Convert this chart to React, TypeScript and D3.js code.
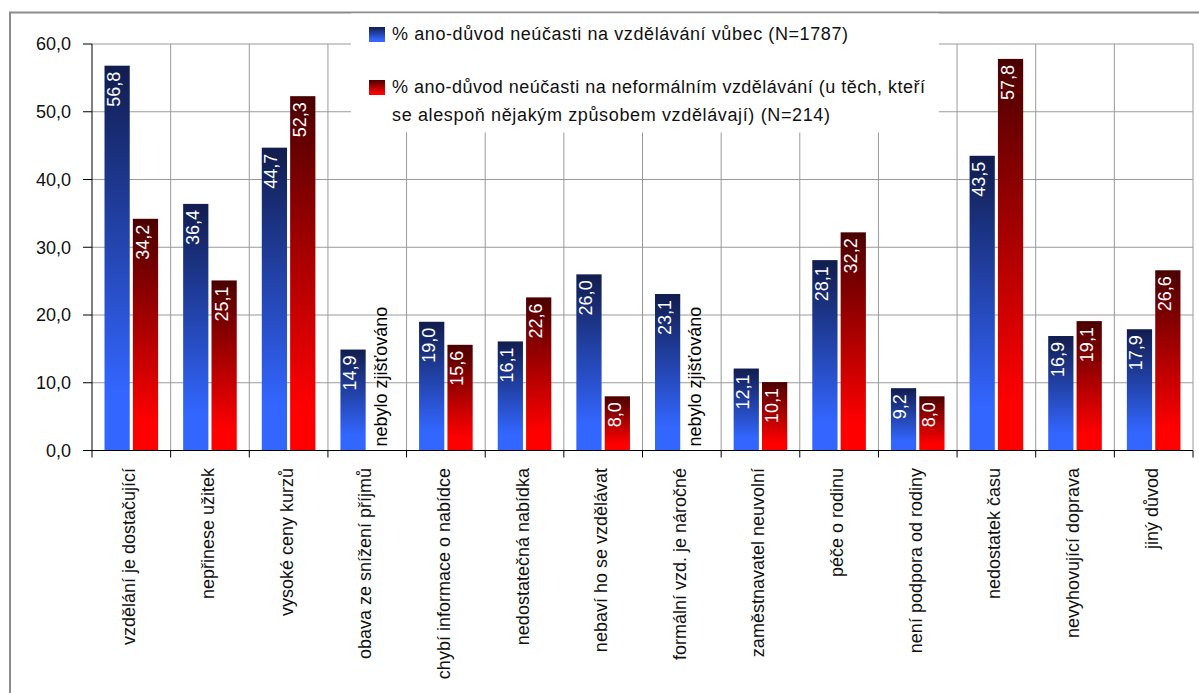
import React from "react";
import * as d3 from "d3";

const categories = [
  "vzdělání je dostačující",
  "nepřinese užitek",
  "vysoké ceny kurzů",
  "obava ze snížení příjmů",
  "chybí informace o nabídce",
  "nedostatečná nabídka",
  "nebaví ho se vzdělávat",
  "formální vzd. je náročné",
  "zaměstnavatel neuvolní",
  "péče o rodinu",
  "není podpora od rodiny",
  "nedostatek času",
  "nevyhovující doprava",
  "jiný důvod",
];

const blueValues: number[] = [56.8, 36.4, 44.7, 14.9, 19.0, 16.1, 26.0, 23.1, 12.1, 28.1, 9.2, 43.5, 16.9, 17.9];
const redValues: (number | null)[] = [34.2, 25.1, 52.3, null, 15.6, 22.6, 8.0, null, 10.1, 32.2, 8.0, 57.8, 19.1, 26.6];

const seriesNames = [
  ["% ano-důvod neúčasti na vzdělávání vůbec (N=1787)"],
  [
    "% ano-důvod neúčasti na neformálním vzdělávání (u těch, kteří",
    "se alespoň nějakým způsobem vzdělávají) (N=214)",
  ],
];
const notMeasuredLabel = "nebylo zjišťováno";
const yTicks = [0, 10, 20, 30, 40, 50, 60];

const W = 1199;
const H = 693;
const FONT = "'Liberation Sans', Arial, sans-serif";

export default function App() {
  const left = 92;
  const right = 1193;
  const top = 44;
  const bottom = 450.5;

  const x0 = d3.scaleBand<string>().domain(categories).range([left, right]).padding(0);
  const x1 = d3.scaleBand<string>().domain(["a", "b"]).range([12.5, 66.1]).paddingInner(0.11);
  const y = d3.scaleLinear().domain([0, 60]).range([bottom, top]);
  const fmt = (v: number) => d3.format(".1f")(v).replace(".", ",");
  const bw = x1.bandwidth();

  const boundaries = categories.map((c) => x0(c)!).concat([right]);

  return (
    <svg
      width={W}
      height={H}
      style={{ position: "absolute", left: 0, top: 0, background: "#fff" }}
      fontFamily={FONT}
    >
      <defs>
        <linearGradient id="gBlue" x1="0" y1="0" x2="0" y2="1">
          <stop offset="0" stopColor="#111d4e" />
          <stop offset="0.85" stopColor="#3366ff" />
          <stop offset="1" stopColor="#3366ff" />
        </linearGradient>
        <linearGradient id="gRed" x1="0" y1="0" x2="0" y2="1">
          <stop offset="0" stopColor="#4a0000" />
          <stop offset="0.88" stopColor="#ff0000" />
          <stop offset="1" stopColor="#ff0000" />
        </linearGradient>
      </defs>
      <rect x={0} y={0} width={W} height={H} fill="#fff" />
      {/* outer frame */}
      <rect x={10} y={12.5} width={1400} height={900} fill="none" stroke="#8c8c8c" strokeWidth={2} />

      {/* gridlines */}
      {yTicks.filter((t) => t > 0).map((t) => (
        <line key={"h" + t} x1={left} x2={right} y1={y(t)} y2={y(t)} stroke="#9a9a9a" strokeWidth={1} />
      ))}
      {boundaries.slice(1).map((bx, i) => (
        <line key={"v" + i} x1={bx} x2={bx} y1={top} y2={bottom} stroke="#9a9a9a" strokeWidth={1} />
      ))}

      {/* bars */}
      {categories.map((c, i) => {
        const bv = blueValues[i];
        const rv = redValues[i];
        const bx = x0(c)! + x1("a")!;
        const rx = x0(c)! + x1("b")!;
        return (
          <g key={"bar" + i}>
            <rect x={bx} y={y(bv)} width={bw} height={y(0) - y(bv)} fill="url(#gBlue)" />
            <text
              transform={`translate(${bx + 15.5},${y(bv) + 6}) rotate(-90)`}
              textAnchor="end"
              fontSize={18}
              fill="#fff"
            >
              {fmt(bv)}
            </text>
            {rv !== null ? (
              <>
                <rect x={rx} y={y(rv)} width={bw} height={y(0) - y(rv)} fill="url(#gRed)" />
                <text
                  transform={`translate(${rx + 16},${y(rv) + 6}) rotate(-90)`}
                  textAnchor="end"
                  fontSize={18}
                  fill="#fff"
                >
                  {fmt(rv)}
                </text>
              </>
            ) : (
              <text
                transform={`translate(${rx + 18},${y(0) - 4}) rotate(-90)`}
                textAnchor="start"
                fontSize={18}
                fill="#000"
              >
                {notMeasuredLabel}
              </text>
            )}
          </g>
        );
      })}

      {/* axes */}
      <line x1={left} x2={left} y1={top} y2={bottom} stroke="#000" strokeWidth={1} />
      <line x1={left} x2={right} y1={bottom} y2={bottom} stroke="#000" strokeWidth={1} />
      {yTicks.map((t) => (
        <g key={"yt" + t}>
          <line x1={83} x2={left} y1={y(t)} y2={y(t)} stroke="#000" />
          <text x={71} y={y(t)} dy="0.35em" textAnchor="end" fontSize={18} fill="#111">
            {fmt(t)}
          </text>
        </g>
      ))}
      {boundaries.map((bx, i) => (
        <line key={"xt" + i} x1={bx} x2={bx} y1={bottom} y2={bottom + 7} stroke="#000" />
      ))}
      {categories.map((c, i) => (
        <text
          key={"xl" + i}
          transform={`translate(${x0(c)! + x0.bandwidth() / 2 + 4},${468}) rotate(-90)`}
          textAnchor="end"
          fontSize={18}
          fill="#111"
        >
          {c}
        </text>
      ))}

      {/* legend */}
      <rect x={351} y={13.5} width={588} height={119} fill="#fff" />
      <rect x={369} y={27} width={16} height={15} fill="url(#gBlue)" />
      <rect x={369} y={80} width={16} height={15} fill="url(#gRed)" />
      <text x={392} y={40} fontSize={18} fill="#111" textLength={456} lengthAdjust="spacing">
        {seriesNames[0][0]}
      </text>
      <text x={392} y={93} fontSize={18} fill="#111" textLength={533} lengthAdjust="spacing">
        {seriesNames[1][0]}
      </text>
      <text x={392} y={121} fontSize={18} fill="#111" textLength={438} lengthAdjust="spacing">
        {seriesNames[1][1]}
      </text>
    </svg>
  );
}
